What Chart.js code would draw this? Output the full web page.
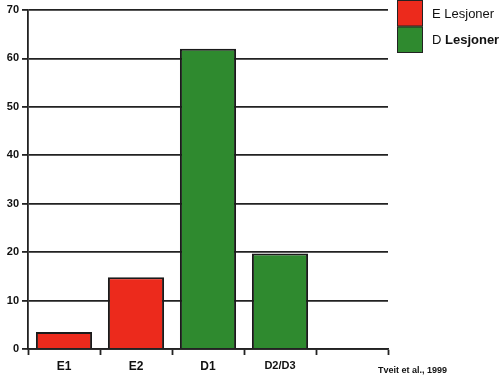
<!DOCTYPE html>
<html>
<head>
<meta charset="utf-8">
<script src="https://cdn.jsdelivr.net/npm/chart.js@4"></script>
<style>
  html, body { margin: 0; padding: 0; background: #fff; }
  #wrap { width: 500px; height: 378px; }
</style>
</head>
<body>
<div id="wrap"><canvas id="lesjonChart" width="500" height="378"></canvas></div>
<script>
const categories = ['E1', 'E2', 'D1', 'D2/D3', ''];
const values = [3.5, 14.8, 62, 19.7, null];
const barColors = ['#ec2a1c', '#ec2a1c', '#2f8a2f', '#2f8a2f', '#2f8a2f'];
const yTicks = [0, 10, 20, 30, 40, 50, 60, 70];
const legendLabels = ['E Lesjoner', 'D Lesjoner'];
const legendColors = ['#ec2a1c', '#2f8a2f'];
const sourceNote = 'Tveit et al., 1999';

const ctx = document.getElementById('lesjonChart').getContext('2d');
const chart = new Chart(ctx, {
    type: 'bar',
    data: {
        labels: categories,
        datasets: [{
            data: values,
            backgroundColor: barColors,
            borderColor: '#1a1a1a',
            borderWidth: 2,
            borderSkipped: 'bottom',
            barPercentage: 0.78,
            categoryPercentage: 1
        }]
    },
    options: {
        responsive: false,
        animation: false,
        layout: { padding: { top: 10, right: 112, left: 0, bottom: 0 } },
        plugins: {
            legend: { display: false },
            tooltip: { enabled: false }
        },
        scales: {
            x: {
                offset: true,
                grid: {
                    offset: true,
                    drawOnChartArea: false,
                    drawTicks: true,
                    tickLength: 6,
                    tickWidth: 1.8,
                    tickColor: '#222'
                },
                border: { color: '#222', width: 1.8 },
                ticks: {
                    color: '#111',
                    padding: 4,
                    font: (c) => ({
                        family: 'Liberation Sans',
                        size: c.tick && c.tick.label === 'D2/D3' ? 11 : 12,
                        weight: 'bold'
                    })
                },
                afterFit(scale) { scale.height = 29; }
            },
            y: {
                min: 0,
                max: 70,
                afterBuildTicks(scale) { scale.ticks = yTicks.map(v => ({ value: v })); },
                grid: {
                    color: '#222',
                    lineWidth: 1.8,
                    tickLength: 6,
                    tickColor: '#222'
                },
                border: { color: '#222', width: 1.8 },
                ticks: {
                    color: '#111',
                    padding: 3,
                    font: { family: 'Liberation Sans', size: 11, weight: 'bold' }
                },
                afterFit(scale) { scale.width = 28; }
            }
        }
    },
    plugins: [{
        id: 'sideLegend',
        afterDraw(chart) {
            const c = chart.ctx;
            const area = chart.chartArea;
            const boxX = area.right + 9;
            const boxW = 26;
            const rowH = 26.5;
            c.save();
            legendLabels.forEach((label, i) => {
                const y0 = i * rowH;
                c.fillStyle = legendColors[i];
                c.fillRect(boxX, y0, boxW, rowH);
                c.strokeStyle = '#222';
                c.lineWidth = 1;
                c.strokeRect(boxX + 0.5, y0 + 0.5, boxW - 1, rowH - 1);
                c.fillStyle = '#111';
                c.textBaseline = 'middle';
                c.textAlign = 'left';
                const parts = label.split(' ');
                if (i === 0) {
                    c.font = '13px "Liberation Sans"';
                    c.fillText(label, boxX + boxW + 9, y0 + rowH / 2 + 1);
                } else {
                    c.font = '13px "Liberation Sans"';
                    c.fillText(parts[0] + ' ', boxX + boxW + 9, y0 + rowH / 2 + 1);
                    const w = c.measureText(parts[0] + ' ').width;
                    c.font = 'bold 13px "Liberation Sans"';
                    c.fillText(parts[1], boxX + boxW + 9 + w, y0 + rowH / 2 + 1);
                }
            });
            c.font = 'bold 9px "Liberation Sans"';
            c.textAlign = 'left';
            c.textBaseline = 'middle';
            c.fillText(sourceNote, area.right - 10, 371);
            c.restore();
        }
    }]
});
</script>
</body>
</html>
